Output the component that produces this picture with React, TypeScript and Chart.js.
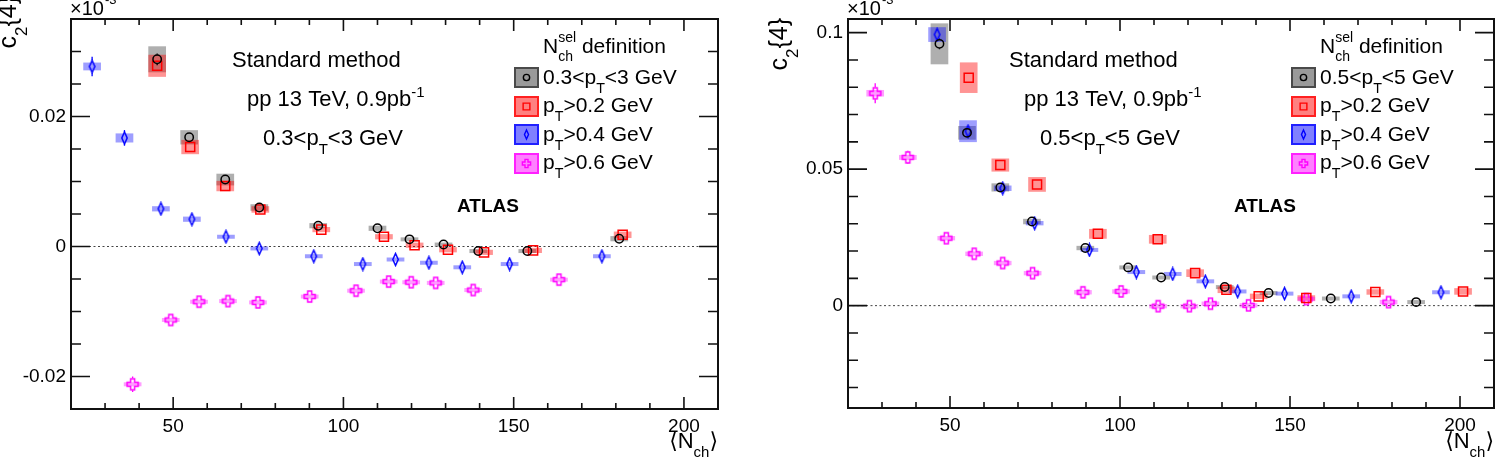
import React, { useEffect, useRef } from "react";
import { Chart, registerables } from "chart.js";

Chart.register(...registerables);

const FONT = '"Liberation Sans", Arial, Helvetica, "DejaVu Sans", sans-serif';

// ---------------- shared x axis ----------------
const X_MIN = 20;
const X_MAX = 210;
const X_TICKS = [50, 100, 150, 200];
const X_TICK_LABELS = ["50", "100", "150", "200"];

// ---------------- left panel: 0.3<pT<3 GeV ----------------
const L_Y_MIN = -0.025;
const L_Y_MAX = 0.035;
const L_Y_TICKS = [-0.02, 0, 0.02];
const L_Y_TICK_LABELS = ["-0.02", "0", "0.02"];

const L_BLACK_X = [45.3, 54.7, 65.3, 75.3, 92.6, 110.0, 119.4, 129.4, 139.6, 154.0, 181.0];
const L_BLACK_Y = [0.0288, 0.0168, 0.0103, 0.006, 0.0032, 0.0028, 0.0011, 0.0003, -0.0007, -0.0007, 0.0012];
const L_BLACK_SYS = [0.002, 0.0011, 0.0009, 0.0005, 0.0004, 0.0004, 0.0003, 0.0003, 0.0003, 0.0003, 0.0004];
const L_BLACK_STAT = [0.0009, 0.0005, 0.0004, 0.0003, 0.0003, 0.0003, 0.0003, 0.0003, 0.0003, 0.0003, 0.0004];

const L_RED_X = [45.3, 55.0, 65.3, 75.6, 93.5, 111.9, 120.9, 130.7, 141.3, 155.7, 182.0];
const L_RED_Y = [0.0278, 0.0153, 0.0093, 0.0057, 0.0026, 0.0015, 0.0002, -0.0005, -0.0009, -0.0006, 0.0018];
const L_RED_SYS = [0.0017, 0.0011, 0.0008, 0.0005, 0.0004, 0.0004, 0.0004, 0.0004, 0.0004, 0.0004, 0.0005];
const L_RED_STAT = [0.0008, 0.0005, 0.0004, 0.0003, 0.0003, 0.0003, 0.0003, 0.0003, 0.0003, 0.0003, 0.0004];

const L_BLUE_X = [26.2, 35.7, 46.4, 55.5, 65.5, 75.3, 91.3, 105.7, 115.3, 125.1, 134.9, 148.8, 175.9];
const L_BLUE_Y = [0.0277, 0.0167, 0.0058, 0.0042, 0.0015, -0.0003, -0.0015, -0.0027, -0.002, -0.0025, -0.0032, -0.0027, -0.0015];
const L_BLUE_SYS = [0.0006, 0.0007, 0.0004, 0.0004, 0.0003, 0.0003, 0.0003, 0.0003, 0.0003, 0.0003, 0.0003, 0.0003, 0.0003];
const L_BLUE_STAT = [0.0015, 0.0012, 0.0005, 0.0004, 0.0004, 0.0004, 0.0004, 0.0004, 0.0004, 0.0004, 0.0004, 0.0004, 0.0004];

const L_MAG_X = [38.1, 49.3, 57.6, 66.1, 74.9, 90.1, 103.7, 113.3, 119.9, 127.1, 138.1, 163.3];
const L_MAG_Y = [-0.0212, -0.0113, -0.0085, -0.0084, -0.0086, -0.0077, -0.0068, -0.0054, -0.0055, -0.0056, -0.0067, -0.0051];
const L_MAG_SYS = [0.0003, 0.0003, 0.0003, 0.0003, 0.0003, 0.0003, 0.0003, 0.0003, 0.0003, 0.0003, 0.0003, 0.0003];
const L_MAG_STAT = [0.0012, 0.0006, 0.0005, 0.0005, 0.0005, 0.0005, 0.0005, 0.0005, 0.0005, 0.0005, 0.0005, 0.0005];

// ---------------- right panel: 0.5<pT<5 GeV ----------------
const R_Y_MIN = -0.0375;
const R_Y_MAX = 0.105;
const R_Y_TICKS = [0, 0.05, 0.1];
const R_Y_TICK_LABELS = ["0", "0.05", "0.1"];

const R_BLACK_X = [46.9, 55.0, 64.8, 74.1, 89.8, 102.4, 112.1, 130.8, 143.7, 162.0, 187.1];
const R_BLACK_Y = [0.0959, 0.0633, 0.0433, 0.0308, 0.0211, 0.014, 0.0103, 0.0068, 0.0046, 0.0026, 0.0013];
const R_BLACK_SYS = [0.0075, 0.0025, 0.0015, 0.001, 0.0008, 0.0007, 0.0007, 0.0007, 0.0007, 0.0007, 0.0007];
const R_BLACK_STAT = [0.002, 0.0012, 0.0009, 0.0008, 0.0008, 0.0008, 0.0008, 0.0008, 0.0008, 0.0008, 0.0008];

const R_RED_X = [55.5, 64.8, 75.6, 93.5, 111.1, 122.1, 131.3, 140.8, 154.8, 175.1, 200.9];
const R_RED_Y = [0.0835, 0.0515, 0.0444, 0.0263, 0.0243, 0.0119, 0.0058, 0.0034, 0.0028, 0.005, 0.0052];
const R_RED_SYS = [0.0056, 0.0024, 0.0027, 0.0018, 0.0016, 0.0014, 0.0012, 0.001, 0.001, 0.001, 0.0012];
const R_RED_STAT = [0.0015, 0.001, 0.001, 0.0009, 0.0009, 0.0009, 0.0009, 0.0009, 0.0009, 0.0009, 0.0012];

const R_BLUE_X = [46.2, 55.3, 65.5, 74.9, 91.0, 104.8, 115.5, 125.1, 134.6, 148.4, 168.0, 194.4];
const R_BLUE_Y = [0.0993, 0.0639, 0.043, 0.0302, 0.0204, 0.0123, 0.0116, 0.0089, 0.0052, 0.0044, 0.0034, 0.0049];
const R_BLUE_SYS = [0.0027, 0.004, 0.001, 0.0008, 0.0007, 0.0007, 0.0007, 0.0007, 0.0007, 0.0007, 0.0007, 0.0007];
const R_BLUE_STAT = [0.002, 0.0012, 0.0012, 0.001, 0.0009, 0.0009, 0.0009, 0.0009, 0.0009, 0.0009, 0.0009, 0.0009];

const R_MAG_X = [28.0, 37.6, 48.9, 57.1, 65.5, 74.3, 89.1, 100.3, 111.2, 120.4, 126.6, 137.8, 154.8, 179.0];
const R_MAG_Y = [0.0778, 0.0543, 0.0247, 0.019, 0.0156, 0.0119, 0.0049, 0.0052, -0.0002, -0.0002, 0.0007, 0.0001, 0.0024, 0.0013];
const R_MAG_SYS = [0.0012, 0.0009, 0.0008, 0.0008, 0.0008, 0.0008, 0.0008, 0.0008, 0.0008, 0.0008, 0.0008, 0.0008, 0.0008, 0.0008];
const R_MAG_STAT = [0.0037, 0.0024, 0.0012, 0.001, 0.001, 0.001, 0.001, 0.001, 0.001, 0.001, 0.001, 0.001, 0.001, 0.001];

// ---------------- styles ----------------
const BOX_DX = 2.6;
type Part = { t: string; sub?: boolean; sup?: boolean };
type Kind = "circle" | "square" | "diamond" | "cross";

interface Series {
  x: number[]; y: number[]; sys: number[]; stat: number[];
  color: string; box: string; swatch: string; edge: string; kind: Kind; legend: Part[];
}

const STYLE_BLACK = { color: "#000000", box: "rgba(110,110,110,0.55)", swatch: "#9a9a9a", edge: "#4a4a4a", kind: "circle" as Kind };
const STYLE_RED = { color: "#ff0000", box: "rgba(255,0,0,0.42)", swatch: "#ff8080", edge: "#ff2020", kind: "square" as Kind };
const STYLE_BLUE = { color: "#0000ff", box: "rgba(0,0,255,0.38)", swatch: "#8080ff", edge: "#2020ff", kind: "diamond" as Kind };
const STYLE_MAG = { color: "#ff00ff", box: "rgba(255,0,255,0.38)", swatch: "#ff80ff", edge: "#ff20ff", kind: "cross" as Kind };

const LEG_02: Part[] = [{ t: "p" }, { t: "T", sub: true }, { t: ">0.2 GeV" }];
const LEG_04: Part[] = [{ t: "p" }, { t: "T", sub: true }, { t: ">0.4 GeV" }];
const LEG_06: Part[] = [{ t: "p" }, { t: "T", sub: true }, { t: ">0.6 GeV" }];

interface PanelCfg {
  canvasLeft: number; width: number; height: number;
  plotLeft: number; plotRight: number; plotTop: number; plotBottom: number;
  yMin: number; yMax: number; yMinor: number; yMajor: number;
  yTicks: number[]; yTickLabels: string[];
  series: Series[];
  selText: Part[];
  yTitleX: number; yTitleEndY: number;
}

const LEFT: PanelCfg = {
  canvasLeft: 0, width: 752, height: 467,
  plotLeft: 71, plotRight: 718, plotTop: 19, plotBottom: 409,
  yMin: L_Y_MIN, yMax: L_Y_MAX, yMinor: 0.005, yMajor: 0.02,
  yTicks: L_Y_TICKS, yTickLabels: L_Y_TICK_LABELS,
  series: [
    { x: L_BLACK_X, y: L_BLACK_Y, sys: L_BLACK_SYS, stat: L_BLACK_STAT, ...STYLE_BLACK, legend: [{ t: "0.3<p" }, { t: "T", sub: true }, { t: "<3 GeV" }] },
    { x: L_RED_X, y: L_RED_Y, sys: L_RED_SYS, stat: L_RED_STAT, ...STYLE_RED, legend: LEG_02 },
    { x: L_BLUE_X, y: L_BLUE_Y, sys: L_BLUE_SYS, stat: L_BLUE_STAT, ...STYLE_BLUE, legend: LEG_04 },
    { x: L_MAG_X, y: L_MAG_Y, sys: L_MAG_SYS, stat: L_MAG_STAT, ...STYLE_MAG, legend: LEG_06 },
  ],
  selText: [{ t: "0.3<p" }, { t: "T", sub: true }, { t: "<3 GeV" }],
  yTitleX: 16, yTitleEndY: -4,
};

const RIGHT: PanelCfg = {
  canvasLeft: 752, width: 752, height: 467,
  plotLeft: 96, plotRight: 742, plotTop: 19, plotBottom: 408,
  yMin: R_Y_MIN, yMax: R_Y_MAX, yMinor: 0.01, yMajor: 0.05,
  yTicks: R_Y_TICKS, yTickLabels: R_Y_TICK_LABELS,
  series: [
    { x: R_BLACK_X, y: R_BLACK_Y, sys: R_BLACK_SYS, stat: R_BLACK_STAT, ...STYLE_BLACK, legend: [{ t: "0.5<p" }, { t: "T", sub: true }, { t: "<5 GeV" }] },
    { x: R_RED_X, y: R_RED_Y, sys: R_RED_SYS, stat: R_RED_STAT, ...STYLE_RED, legend: LEG_02 },
    { x: R_BLUE_X, y: R_BLUE_Y, sys: R_BLUE_SYS, stat: R_BLUE_STAT, ...STYLE_BLUE, legend: LEG_04 },
    { x: R_MAG_X, y: R_MAG_Y, sys: R_MAG_SYS, stat: R_MAG_STAT, ...STYLE_MAG, legend: LEG_06 },
  ],
  selText: [{ t: "0.5<p" }, { t: "T", sub: true }, { t: "<5 GeV" }],
  yTitleX: 35, yTitleEndY: 18,
};

// ---------------- drawing helpers ----------------
function richWidth(ctx: CanvasRenderingContext2D, parts: Part[], size: number, weight = "normal") {
  let w = 0;
  for (const p of parts) {
    const fs = p.sub || p.sup ? size * 0.68 : size;
    ctx.font = `${weight} ${fs}px ${FONT}`;
    w += ctx.measureText(p.t).width;
  }
  return w;
}

function drawRich(ctx: CanvasRenderingContext2D, parts: Part[], x: number, y: number, size: number, weight = "normal") {
  let cx = x;
  ctx.textAlign = "left";
  ctx.textBaseline = "alphabetic";
  for (const p of parts) {
    const fs = p.sub || p.sup ? size * 0.68 : size;
    ctx.font = `${weight} ${fs}px ${FONT}`;
    const dy = p.sub ? size * 0.42 : p.sup ? -size * 0.42 : 0;
    ctx.fillText(p.t, cx, y + dy);
    cx += ctx.measureText(p.t).width;
  }
  return cx - x;
}

function markerPath(ctx: CanvasRenderingContext2D, kind: Kind, cx: number, cy: number, s: number) {
  ctx.beginPath();
  if (kind === "circle") {
    ctx.arc(cx, cy, 4.2 * s, 0, Math.PI * 2);
  } else if (kind === "square") {
    const h = 4.5 * s;
    ctx.rect(cx - h, cy - h, 2 * h, 2 * h);
  } else if (kind === "diamond") {
    ctx.moveTo(cx, cy - 6 * s);
    ctx.lineTo(cx + 2.7 * s, cy);
    ctx.lineTo(cx, cy + 6 * s);
    ctx.lineTo(cx - 2.7 * s, cy);
    ctx.closePath();
  } else {
    const a = 2 * s, l = 5.5 * s;
    ctx.moveTo(cx - a, cy - l);
    ctx.lineTo(cx + a, cy - l);
    ctx.lineTo(cx + a, cy - a);
    ctx.lineTo(cx + l, cy - a);
    ctx.lineTo(cx + l, cy + a);
    ctx.lineTo(cx + a, cy + a);
    ctx.lineTo(cx + a, cy + l);
    ctx.lineTo(cx - a, cy + l);
    ctx.lineTo(cx - a, cy + a);
    ctx.lineTo(cx - l, cy + a);
    ctx.lineTo(cx - l, cy - a);
    ctx.lineTo(cx - a, cy - a);
    ctx.closePath();
  }
}

function markerCanvas(kind: Kind, color: string) {
  const c = document.createElement("canvas");
  c.width = 15;
  c.height = 15;
  const g = c.getContext("2d")!;
  g.strokeStyle = color;
  g.lineWidth = 1.5;
  markerPath(g, kind, 7.5, 7.5, 1);
  g.stroke();
  return c;
}

function markerHalf(kind: Kind) {
  return kind === "circle" ? 4.5 : kind === "square" ? 5 : 6;
}

function decorPlugin(P: PanelCfg) {
  return {
    id: "decor",
    beforeDatasetsDraw(chart: any) {
      const { ctx, chartArea: a, scales } = chart;
      const xs = scales.x, ys = scales.y;
      ctx.save();
      ctx.beginPath();
      ctx.rect(a.left, a.top, a.right - a.left, a.bottom - a.top);
      ctx.clip();
      // zero line
      const y0 = ys.getPixelForValue(0);
      ctx.setLineDash([2, 2.5]);
      ctx.strokeStyle = "#444";
      ctx.lineWidth = 1;
      ctx.beginPath();
      ctx.moveTo(a.left, y0);
      ctx.lineTo(a.right, y0);
      ctx.stroke();
      ctx.setLineDash([]);
      // systematic boxes
      for (const s of P.series) {
        ctx.fillStyle = s.box;
        s.x.forEach((xv, i) => {
          const px1 = xs.getPixelForValue(xv - BOX_DX);
          const px2 = xs.getPixelForValue(xv + BOX_DX);
          const pt = ys.getPixelForValue(s.y[i] + s.sys[i]);
          const pb = ys.getPixelForValue(s.y[i] - s.sys[i]);
          const h = Math.max(pb - pt, 4);
          const cy = (pt + pb) / 2;
          ctx.fillRect(px1, cy - h / 2, px2 - px1, h);
        });
      }
      // statistical bars
      for (const s of P.series) {
        ctx.strokeStyle = s.color;
        ctx.lineWidth = 1.3;
        const gap = markerHalf(s.kind);
        s.x.forEach((xv, i) => {
          const px = xs.getPixelForValue(xv);
          const py = ys.getPixelForValue(s.y[i]);
          const pt = ys.getPixelForValue(s.y[i] + s.stat[i]);
          const pb = ys.getPixelForValue(s.y[i] - s.stat[i]);
          ctx.beginPath();
          if (py - gap > pt) { ctx.moveTo(px, pt); ctx.lineTo(px, py - gap); }
          if (py + gap < pb) { ctx.moveTo(px, py + gap); ctx.lineTo(px, pb); }
          ctx.stroke();
        });
      }
      ctx.restore();
    },
    afterDraw(chart: any) {
      const { ctx, chartArea: a, scales } = chart;
      const xs = scales.x, ys = scales.y;
      const L = a.left;
      ctx.save();
      // frame
      ctx.strokeStyle = "#111";
      ctx.lineWidth = 2;
      ctx.strokeRect(a.left, a.top, a.right - a.left, a.bottom - a.top);
      // ticks
      ctx.lineWidth = 1.6;
      ctx.beginPath();
      for (let v = X_MIN + 10; v < X_MAX; v += 10) {
        const px = xs.getPixelForValue(v);
        const len = v % 50 === 0 ? 12 : 6;
        ctx.moveTo(px, a.bottom);
        ctx.lineTo(px, a.bottom - len);
        ctx.moveTo(px, a.top);
        ctx.lineTo(px, a.top + len);
      }
      const k0 = Math.ceil(P.yMin / P.yMinor - 1e-6);
      const k1 = Math.floor(P.yMax / P.yMinor + 1e-6);
      for (let k = k0; k <= k1; k++) {
        const v = k * P.yMinor;
        const py = ys.getPixelForValue(v);
        if (Math.abs(py - a.top) < 1 || Math.abs(py - a.bottom) < 1) continue;
        const r = v / P.yMajor;
        const len = Math.abs(r - Math.round(r)) < 1e-6 ? 19 : 10;
        ctx.moveTo(a.left, py);
        ctx.lineTo(a.left + len, py);
        ctx.moveTo(a.right, py);
        ctx.lineTo(a.right - len, py);
      }
      ctx.stroke();

      ctx.fillStyle = "#000";
      // x10^-3
      const w10 = drawRich(ctx, [{ t: "×10" }], L - 1, 15, 20);
      ctx.font = `normal 13px ${FONT}`;
      ctx.fillText("-3", L - 1 + w10 + 1, 4);

      // y title
      ctx.save();
      ctx.translate(P.yTitleX, P.yTitleEndY);
      ctx.rotate(-Math.PI / 2);
      const yt: Part[] = [{ t: "c" }, { t: "2", sub: true }, { t: "{4}" }];
      const ytw = richWidth(ctx, yt, 25);
      drawRich(ctx, yt, -ytw, 0, 25);
      ctx.restore();

      // x title <N_ch>
      const xt: Part[] = [{ t: "⟨N" }, { t: "ch", sub: true }, { t: "⟩" }];
      const xtw = richWidth(ctx, xt, 22);
      drawRich(ctx, xt, a.right - xtw, 448, 22);

      // text block
      drawRich(ctx, [{ t: "Standard method" }], L + 161, 67, 22);
      drawRich(ctx, [{ t: "pp 13 TeV, 0.9pb" }, { t: "-1", sup: true }], L + 176, 106, 22);
      drawRich(ctx, P.selText, L + 192, 145, 22);

      // ATLAS
      ctx.font = `bold 19px ${FONT}`;
      ctx.textAlign = "left";
      ctx.fillText("ATLAS", L + 386, 212);

      // legend title N_ch^sel definition
      const tx = L + 472;
      ctx.font = `normal 21px ${FONT}`;
      ctx.fillText("N", tx, 53);
      const wN = ctx.measureText("N").width;
      ctx.font = `normal 14px ${FONT}`;
      ctx.fillText("ch", tx + wN, 61);
      ctx.fillText("sel", tx + wN, 42);
      const wS = Math.max(ctx.measureText("ch").width, ctx.measureText("sel").width);
      ctx.font = `normal 21px ${FONT}`;
      ctx.fillText(" definition", tx + wN + wS, 53);

      // legend entries
      const rowTop = [67, 96, 124, 153];
      const rowBase = [84, 112, 141, 169];
      P.series.forEach((s, i) => {
        const sx = L + 443, sy = rowTop[i];
        ctx.fillStyle = s.swatch;
        ctx.fillRect(sx, sy, 25, 21);
        ctx.strokeStyle = s.edge;
        ctx.lineWidth = 2;
        ctx.strokeRect(sx + 1, sy + 1, 23, 19);
        ctx.strokeStyle = s.color;
        ctx.lineWidth = 1.4;
        markerPath(ctx, s.kind, sx + 12.5, sy + 10.5, 0.75);
        ctx.stroke();
        ctx.fillStyle = "#000";
        drawRich(ctx, s.legend, tx, rowBase[i], 21);
      });
      ctx.restore();
    },
  };
}

function Panel({ cfg }: { cfg: PanelCfg }) {
  const ref = useRef<HTMLCanvasElement>(null);
  useEffect(() => {
    const canvas = ref.current!;
    const datasets = cfg.series.map((s) => {
      const img = s.kind === "diamond" || s.kind === "cross" ? markerCanvas(s.kind, s.color) : null;
      return {
        data: s.x.map((xv, i) => ({ x: xv, y: s.y[i] })),
        showLine: false,
        pointStyle: img ? img : s.kind === "circle" ? "circle" : "rect",
        pointRadius: s.kind === "circle" ? 4.2 : s.kind === "square" ? 6.4 : 6,
        pointBorderColor: s.color,
        pointBackgroundColor: "rgba(0,0,0,0)",
        pointBorderWidth: 1.5,
        borderColor: s.color,
        backgroundColor: "rgba(0,0,0,0)",
      };
    });
    const tickFont = { family: FONT, size: 19 };
    const chart = new Chart(canvas, {
      type: "scatter",
      data: { datasets: datasets as any },
      plugins: [decorPlugin(cfg)],
      options: {
        animation: false,
        responsive: false,
        maintainAspectRatio: false,
        devicePixelRatio: 1,
        layout: { padding: 0 },
        plugins: { legend: { display: false }, tooltip: { enabled: false }, title: { display: false } },
        scales: {
          x: {
            type: "linear", position: "bottom", min: X_MIN, max: X_MAX,
            afterBuildTicks: (s: any) => { s.ticks = X_TICKS.map((v) => ({ value: v })); },
            afterFit: (s: any) => { s.height = cfg.height - cfg.plotBottom; },
            grid: { display: false, drawTicks: false },
            border: { display: false },
            ticks: {
              autoSkip: false, maxRotation: 0, minRotation: 0, padding: 6, color: "#000", font: tickFont,
              callback: (_v: any, i: number) => X_TICK_LABELS[i],
            },
          },
          xTop: {
            type: "linear", position: "top", min: X_MIN, max: X_MAX,
            afterFit: (s: any) => { s.height = cfg.plotTop; },
            grid: { display: false, drawTicks: false }, border: { display: false }, ticks: { display: false },
          },
          y: {
            type: "linear", position: "left", min: cfg.yMin, max: cfg.yMax,
            afterBuildTicks: (s: any) => { s.ticks = cfg.yTicks.map((v) => ({ value: v })); },
            afterFit: (s: any) => { s.width = cfg.plotLeft; },
            grid: { display: false, drawTicks: false },
            border: { display: false },
            ticks: {
              autoSkip: false, padding: 5, color: "#000", font: tickFont,
              callback: (_v: any, i: number) => cfg.yTickLabels[i],
            },
          },
          yRight: {
            type: "linear", position: "right", min: cfg.yMin, max: cfg.yMax,
            afterFit: (s: any) => { s.width = cfg.width - cfg.plotRight; },
            grid: { display: false, drawTicks: false }, border: { display: false }, ticks: { display: false },
          },
        },
      } as any,
    });
    return () => chart.destroy();
  }, [cfg]);
  return (
    <canvas
      ref={ref}
      width={cfg.width}
      height={cfg.height}
      style={{ position: "absolute", left: cfg.canvasLeft, top: 0, width: cfg.width, height: cfg.height }}
    />
  );
}

export default function App() {
  return (
    <div style={{ position: "absolute", left: 0, top: 0, width: 1504, height: 467, background: "#ffffff", overflow: "hidden" }}>
      <Panel cfg={LEFT} />
      <Panel cfg={RIGHT} />
    </div>
  );
}
